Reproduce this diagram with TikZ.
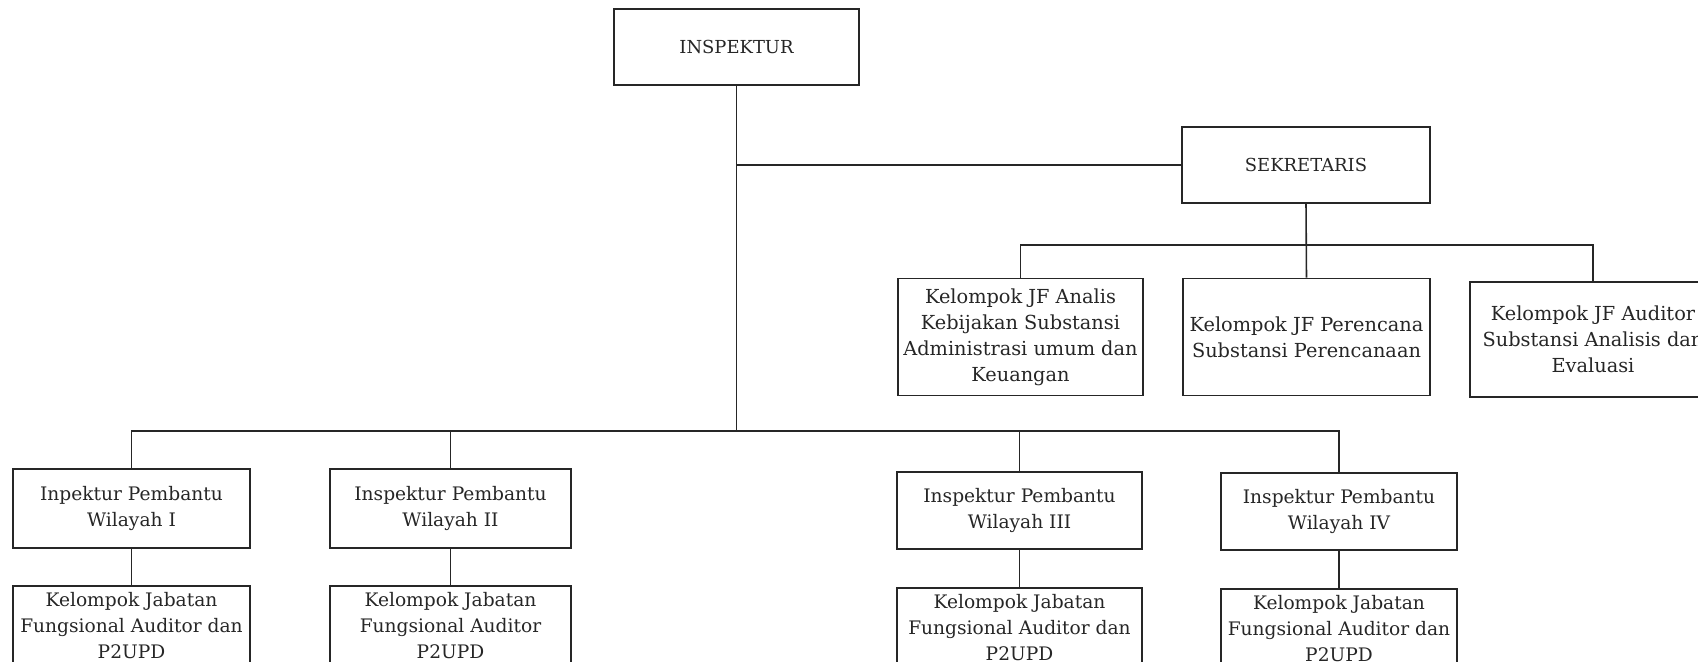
\documentclass[tikz,border=0pt]{standalone}
\usepackage{fontspec}
\setmainfont{DejaVu Serif}
\usepackage{tikz}
\usetikzlibrary{positioning}

\begin{document}
\begin{tikzpicture}[x=0.02cm, y=-0.02cm,
   line/.style = {draw=black!85, line width=0.9pt},
    box/.style = {line, rectangle, align=center, inner sep=2pt,
                  text=black!85, font=\fontsize{10.6}{14.8}\selectfont},
     jf/.style = {box, font=\fontsize{11}{14.8}\selectfont},
   unit/.style = {box, anchor=north, inner ysep=4pt, text depth=1.2cm}
                   ]
\useasboundingbox (0,0) rectangle (1698,662);

% pimpinan
\node[box, font=\fontsize{10.2}{14}\selectfont, minimum width=4.9cm,  minimum height=1.52cm] (insp) at (736.5,47) {INSPEKTUR};
\node[box, font=\fontsize{10.2}{14}\selectfont, minimum width=4.96cm, minimum height=1.52cm] (sek)  at (1306,165) {SEKRETARIS};

% kelompok JF sekretariat
\node[jf, minimum width=4.9cm,  minimum height=2.34cm] (analis) at (1020.5,337) {Kelompok JF Analis\\Kebijakan  Substansi\\Administrasi umum dan\\Keuangan};
\node[jf, minimum width=4.94cm, minimum height=2.34cm] (peren)  at (1306.5,337) {Kelompok JF Perencana\\Substansi  Perencanaan};
\node[jf, minimum width=4.92cm, minimum height=2.3cm]  (audit)  at (1593,339.5) {Kelompok JF Auditor\\Substansi Analisis dan\\Evaluasi};

% inspektur pembantu
\node[box, minimum width=4.74cm, minimum height=1.58cm] (ipw1) at (131.5,508.5) {Inpektur Pembantu\\Wilayah I};
\node[box, minimum width=4.82cm, minimum height=1.58cm] (ipw2) at (450.5,508.5) {Inspektur Pembantu\\Wilayah II};
\node[box, minimum width=4.9cm,  minimum height=1.54cm] (ipw3) at (1019.5,510.5) {Inspektur Pembantu\\Wilayah III};
\node[box, minimum width=4.72cm, minimum height=1.54cm] (ipw4) at (1339,511.5)  {Inspektur Pembantu\\Wilayah IV};

% kelompok jabatan fungsional
\node[unit, minimum width=4.74cm] (kj1) at (131.5,585) {Kelompok Jabatan\\Fungsional Auditor dan\\P2UPD};
\node[unit, minimum width=4.82cm] (kj2) at (450.5,585) {Kelompok Jabatan\\Fungsional  Auditor\\P2UPD};
\node[unit, minimum width=4.9cm]  (kj3) at (1019.5,587) {Kelompok Jabatan\\Fungsional Auditor dan\\P2UPD};
\node[unit, minimum width=4.72cm] (kj4) at (1339,588) {Kelompok Jabatan\\Fungsional  Auditor dan\\P2UPD};

\coordinate (lowbus) at (736.5,431);
\coordinate (jfbus)  at (1306,245);

% garis
\draw[line] (insp.south) -- (lowbus);
\draw[line] (insp.south |- sek.west) -- (sek.west);
\draw[line] (sek.south) -- (peren.north);
\draw[line] (analis.north) |- (jfbus) -| (audit.north);
\draw[line] (ipw1.north) |- (lowbus) -| (ipw4.north);
\draw[line] (ipw2.north) -- (ipw2.north |- lowbus);
\draw[line] (ipw3.north) -- (ipw3.north |- lowbus);
\foreach \i in {1,...,4}
   \draw[line] (ipw\i.south) -- (kj\i.north);
\end{tikzpicture}
\end{document}
